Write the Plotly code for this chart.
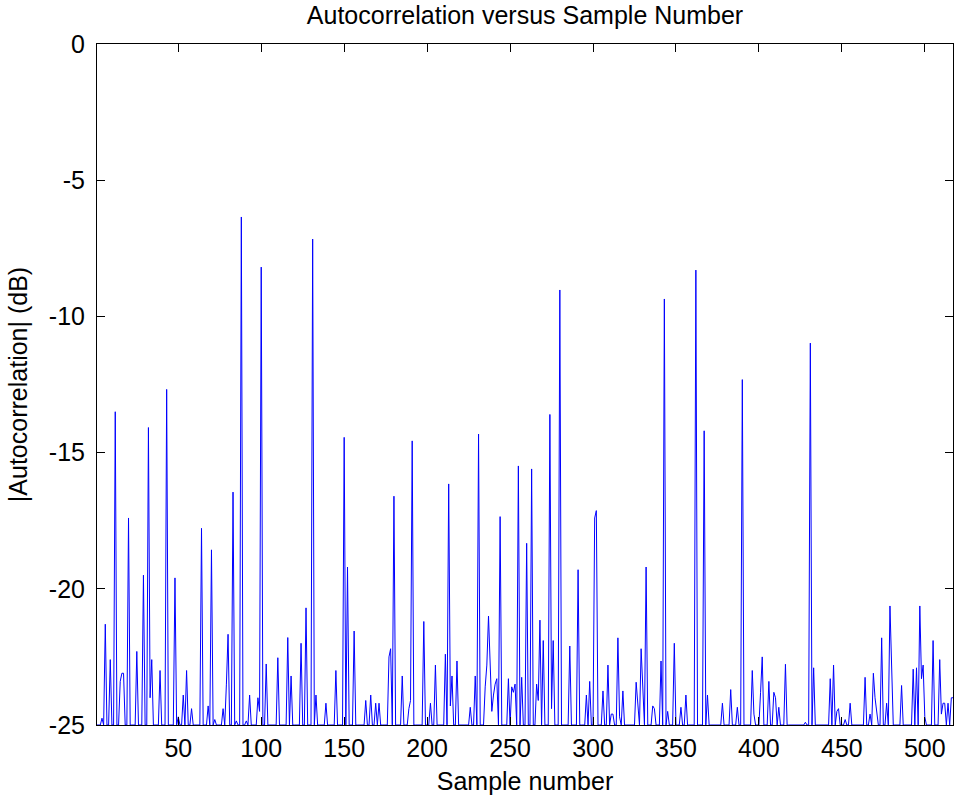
import plotly.graph_objects as go

# ---- data ----
n_samples = 517
floor_db = -25.0

peak_samples = [
    4, 6, 9, 12, 15, 16, 17, 20, 25, 29, 32, 33, 34, 39, 43, 48, 50, 53, 55, 58,
    64, 68, 70, 72, 77, 79, 80, 83, 85, 88, 91, 93, 98, 99, 100, 103, 110, 116, 118, 124,
    127, 131, 133, 139, 145, 150, 152, 156, 163, 166, 169, 171, 177, 178, 180, 185, 189, 190, 191, 198,
    202, 205, 211, 213, 214, 215, 218, 226, 229, 231, 235, 236, 237, 238, 239, 240, 241, 242, 244, 249,
    251, 252, 253, 255, 257, 260, 263, 266, 267, 268, 270, 274, 275, 276, 280, 286, 291, 296, 298, 301,
    302, 306, 309, 311, 312, 315, 316, 318, 326, 327, 329, 330, 332, 336, 337, 341, 343, 345, 349, 353,
    356, 362, 367, 369, 378, 383, 387, 390, 396, 397, 401, 402, 406, 409, 410, 412, 416, 428, 431, 433,
    443, 445, 447, 448, 452, 455, 464, 467, 469, 470, 471, 474, 477, 479, 480, 486, 493, 495, 497, 498,
    499, 500, 505, 509, 510, 511, 512, 514, 516, 517,
]
peak_db = [
    -24.75, -21.3, -22.6, -13.5, -23.4, -23.1, -23.1, -17.4, -22.3, -19.5, -14.08, -24.0, -22.6, -23.0, -12.68, -19.6, -24.7, -23.9, -23.0, -24.4,
    -17.78, -24.3, -18.57, -24.8, -24.4, -23.5, -21.67, -16.45, -24.85, -6.35, -24.85, -23.9, -24.0, -24.5, -8.19, -22.76, -22.53, -21.79, -23.2, -22.0,
    -20.7, -7.16, -23.9, -24.2, -23.0, -14.44, -19.2, -21.55, -24.1, -23.9, -24.2, -24.2, -22.5, -22.2, -16.6, -23.2, -24.4, -24.1, -14.57, -21.2,
    -24.2, -22.8, -22.4, -16.15, -24.3, -23.2, -22.65, -24.35, -23.2, -14.32, -23.6, -22.8, -21.0, -23.0, -24.5, -23.9, -23.5, -23.3, -17.35, -23.3,
    -23.6, -23.8, -23.5, -15.49, -23.25, -18.33, -15.6, -23.5, -24.1, -21.15, -21.9, -13.6, -24.4, -21.9, -9.03, -22.1, -19.3, -23.9, -23.4, -17.4,
    -17.13, -23.75, -22.8, -24.6, -24.6, -21.8, -24.7, -23.75, -23.43, -24.3, -22.2, -23.9, -19.2, -24.3, -24.4, -22.65, -9.36, -24.5, -22.0, -24.35,
    -23.9, -8.3, -14.2, -23.9, -24.2, -23.7, -24.35, -12.32, -23.0, -24.6, -23.8, -22.5, -23.4, -23.8, -24.0, -24.35, -22.77, -24.9, -10.98, -22.9,
    -23.3, -22.8, -24.5, -24.4, -24.8, -24.2, -23.25, -24.6, -23.1, -24.0, -24.5, -21.8, -24.2, -20.63, -22.5, -23.55, -22.95, -22.9, -20.63, -23.3,
    -22.8, -24.7, -21.9, -22.6, -24.6, -24.2, -24.2, -24.2, -24.0, -24.0,
]

x_tick_vals = [50, 100, 150, 200, 250, 300, 350, 400, 450, 500]
y_tick_vals = [0, -5, -10, -15, -20, -25]
y_tick_text = ["0", "-5", "-10", "-15", "-20", "-25"]

# build the full sequence: samples not listed sit on the floor
samples = list(range(1, n_samples + 1))
lookup = dict(zip(peak_samples, peak_db))
values = [lookup.get(s, floor_db) for s in samples]

FONT = "Liberation Sans, Arial, sans-serif"
FS = 25
FIG_W, FIG_H = 955, 798

fig = go.Figure()
fig.add_trace(go.Scatter(
    x=samples, y=values, mode="lines",
    line=dict(color="#0000ff", width=1),
    showlegend=False, hoverinfo="x+y",
))

axis_common = dict(
    showline=True, linecolor="black", linewidth=1, mirror="ticks",
    ticks="inside", ticklen=8, tickwidth=1, tickcolor="black",
    showgrid=False, zeroline=False, automargin=False,
    tickfont=dict(family=FONT, size=FS, color="black"),
)

fig.update_layout(
    width=FIG_W, height=FIG_H,
    margin=dict(l=97, r=2, t=44, b=73),
    paper_bgcolor="white", plot_bgcolor="white",
    title=dict(
        text="Autocorrelation versus Sample Number",
        font=dict(family=FONT, size=FS, color="black"),
        x=0.5, xanchor="center", xref="paper",
        y=1 - 15 / FIG_H, yref="container", yanchor="middle",
    ),
    xaxis=dict(
        range=[1, n_samples], tickvals=x_tick_vals,
        title=dict(text="Sample number", font=dict(family=FONT, size=FS, color="black"), standoff=11),
        ticklabelstandoff=1,
        **axis_common,
    ),
    yaxis=dict(
        range=[floor_db, 0], tickvals=y_tick_vals, ticktext=y_tick_text,
        title=dict(text="|Autocorrelation| (dB)", font=dict(family=FONT, size=FS, color="black"), standoff=14),
        ticklabelstandoff=6,
        **axis_common,
    ),
)

# remove the default 8px page margin so the figure sits at the window's corner
fig.write_html(
    "out.html",
    config={"displayModeBar": False},
    post_script="document.body.style.margin='0';",
)
